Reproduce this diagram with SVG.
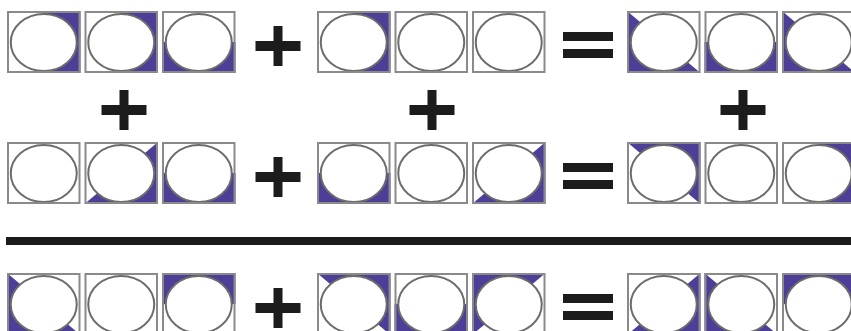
<svg xmlns="http://www.w3.org/2000/svg" xmlns:xlink="http://www.w3.org/1999/xlink" width="851" height="331" viewBox="0 0 851 331">
<style>
.p{fill:#4f3e97}
.e{fill:#fff;stroke:#6c6c6c;stroke-width:2}
.f{fill:none;stroke:#8a8a8a;stroke-width:2}
.op{fill:#1c1c1c}
</style>
<defs>
<rect id="pR" class="p" x="36.75" y="0" width="36.75" height="62"/>
<rect id="pB" class="p" x="0" y="31" width="73.5" height="31"/>
<rect id="pT" class="p" x="0" y="0" width="73.5" height="31"/>
<polygon id="pD1" class="p" points="0,0 73.5,62 0,62"/>
<polygon id="pD2" class="p" points="0,0 73.5,0 73.5,62"/>
<polygon id="pA1" class="p" points="73.5,0 73.5,62 0,62"/>
<polygon id="pA2" class="p" points="0,0 73.5,0 0,62"/>
<g id="base"><ellipse class="e" cx="36.75" cy="31.5" rx="33" ry="28.5"/><rect class="f" x="1" y="1" width="71.5" height="60"/></g>
<g id="plus"><rect x="-22.5" y="-5" width="45" height="10"/><rect x="-4.5" y="-20" width="9" height="40"/></g>
<g id="eq"><rect x="-25" y="-13" width="50" height="9"/><rect x="-25" y="4" width="50" height="9"/></g>
</defs>
<rect width="851" height="331" fill="#fff"/>

<!-- Row 1 -->
<g id="r1a1" transform="translate(7,11)"><use xlink:href="#pR"/><use xlink:href="#base"/></g>
<g id="r1a2" transform="translate(84.5,11)"><use xlink:href="#pR"/><use xlink:href="#base"/></g>
<g id="r1a3" transform="translate(162,11)"><use xlink:href="#pB"/><use xlink:href="#base"/></g>
<g id="r1b1" transform="translate(317,11)"><use xlink:href="#pR"/><use xlink:href="#base"/></g>
<g id="r1b2" transform="translate(394.5,11)"><use xlink:href="#base"/></g>
<g id="r1b3" transform="translate(472,11)"><use xlink:href="#base"/></g>
<g id="r1c1" transform="translate(627,11)"><use xlink:href="#pD1"/><use xlink:href="#base"/></g>
<g id="r1c2" transform="translate(704.5,11)"><use xlink:href="#pB"/><use xlink:href="#base"/></g>
<g id="r1c3" transform="translate(782,11)"><use xlink:href="#pD1"/><use xlink:href="#base"/></g>

<!-- Row 2 -->
<g id="r2a1" transform="translate(7,142)"><use xlink:href="#base"/></g>
<g id="r2a2" transform="translate(84.5,142)"><use xlink:href="#pA1"/><use xlink:href="#base"/></g>
<g id="r2a3" transform="translate(162,142)"><use xlink:href="#pB"/><use xlink:href="#base"/></g>
<g id="r2b1" transform="translate(317,142)"><use xlink:href="#pB"/><use xlink:href="#base"/></g>
<g id="r2b2" transform="translate(394.5,142)"><use xlink:href="#base"/></g>
<g id="r2b3" transform="translate(472,142)"><use xlink:href="#pA1"/><use xlink:href="#base"/></g>
<g id="r2c1" transform="translate(627,142)"><use xlink:href="#pD2"/><use xlink:href="#base"/></g>
<g id="r2c2" transform="translate(704.5,142)"><use xlink:href="#base"/></g>
<g id="r2c3" transform="translate(782,142)"><use xlink:href="#pR"/><use xlink:href="#base"/></g>

<!-- Row 3 -->
<g id="r3a1" transform="translate(7,273)"><use xlink:href="#pD1"/><use xlink:href="#base"/></g>
<g id="r3a2" transform="translate(84.5,273)"><use xlink:href="#base"/></g>
<g id="r3a3" transform="translate(162,273)"><use xlink:href="#pT"/><use xlink:href="#base"/></g>
<g id="r3b1" transform="translate(317,273)"><use xlink:href="#pD2"/><use xlink:href="#base"/></g>
<g id="r3b2" transform="translate(394.5,273)"><use xlink:href="#pB"/><use xlink:href="#base"/></g>
<g id="r3b3" transform="translate(472,273)"><use xlink:href="#pA2"/><use xlink:href="#base"/></g>
<g id="r3c1" transform="translate(627,273)"><use xlink:href="#pA1"/><use xlink:href="#base"/></g>
<g id="r3c2" transform="translate(704.5,273)"><use xlink:href="#pD1"/><use xlink:href="#base"/></g>
<g id="r3c3" transform="translate(782,273)"><use xlink:href="#pT"/><use xlink:href="#base"/></g>

<!-- Operators and rule -->
<g id="connectors" class="op">
<use xlink:href="#plus" transform="translate(278,46)"/>
<use xlink:href="#eq" transform="translate(588,45)"/>
<use xlink:href="#plus" transform="translate(278,177)"/>
<use xlink:href="#eq" transform="translate(588,176)"/>
<use xlink:href="#plus" transform="translate(278,308)"/>
<use xlink:href="#eq" transform="translate(588,307)"/>
<use xlink:href="#plus" transform="translate(124,110)"/>
<use xlink:href="#plus" transform="translate(432,110)"/>
<use xlink:href="#plus" transform="translate(743,110)"/>
<rect x="6" y="237" width="845" height="8"/>
</g>
</svg>
